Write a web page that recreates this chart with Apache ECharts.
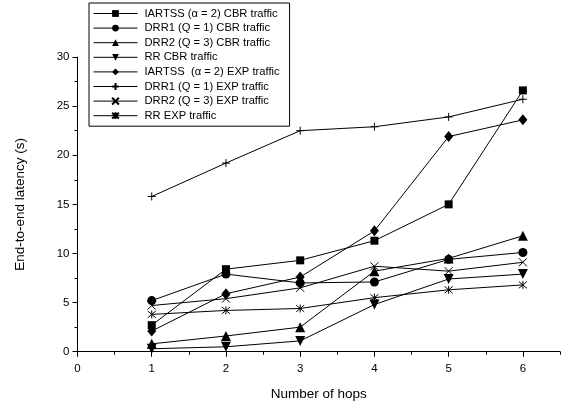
<!DOCTYPE html>
<html>
<head>
<meta charset="utf-8">
<script src="https://cdn.jsdelivr.net/npm/echarts@6/dist/echarts.min.js"></script>
<style>
html,body{margin:0;padding:0;background:#fff;}
#c{width:566px;height:407px;}
</style>
</head>
<body>
<div id="c"></div>
<script>
const hops = [1, 2, 3, 4, 5, 6];
const seriesNames = [
  'IARTSS (α = 2) CBR traffic',
  'DRR1 (Q = 1) CBR traffic',
  'DRR2 (Q = 3) CBR traffic',
  'RR CBR traffic',
  'IARTSS  (α = 2) EXP traffic',
  'DRR1 (Q = 1) EXP traffic',
  'DRR2 (Q = 3) EXP traffic',
  'RR EXP traffic'
];
const iartssCbr = [2.7, 8.4, 9.3, 11.3, 15.0, 26.6];
const drr1Cbr   = [5.2, 7.9, 7.0, 7.1, 9.4, 10.1];
const drr2Cbr   = [0.8, 1.6, 2.5, 8.2, 9.5, 11.8];
const rrCbr     = [0.3, 0.5, 1.1, 4.8, 7.4, 7.9];
const iartssExp = [2.1, 5.9, 7.6, 12.3, 21.9, 23.6];
const drr1Exp   = [15.8, 19.2, 22.5, 22.9, 23.9, 25.7];
const drr2Exp   = [4.7, 5.4, 6.5, 8.7, 8.2, 9.1];
const rrExp     = [3.8, 4.2, 4.4, 5.5, 6.3, 6.8];
const xTickLabels = [0, 1, 2, 3, 4, 5, 6];
const xMinorTicks = [0.5, 1.5, 2.5, 3.5, 4.5, 5.5, 6.5];

const allData = [iartssCbr, drr1Cbr, drr2Cbr, rrCbr, iartssExp, drr1Exp, drr2Exp, rrExp];

const FONT = '"Liberation Sans", Arial, sans-serif';
const PLUS = 'path://M5,0 L5,10 M0,5 L10,5';
const CROSS = 'path://M0,0 L10,10 M10,0 L0,10';
const STAR = 'path://M0,0 L10,10 M10,0 L0,10 M5,-1 L5,11';

const symbols = [
  {symbol: 'rect', size: 8, fill: true},
  {symbol: 'circle', size: 9, fill: true},
  {symbol: 'triangle', size: 10, fill: true},
  {symbol: 'triangle', size: 10, fill: true, rotate: 180},
  {symbol: 'diamond', size: [9, 11], fill: true},
  {symbol: PLUS, size: 8, fill: false},
  {symbol: CROSS, size: 8, fill: false},
  {symbol: STAR, size: 8, fill: false}
];

const series = allData.map((d, i) => {
  const s = symbols[i];
  return {
    name: seriesNames[i],
    type: 'line',
    data: hops.map((h, k) => [h, d[k]]),
    symbol: s.symbol,
    symbolSize: s.size,
    symbolRotate: s.rotate || 0,
    showAllSymbol: true,
    lineStyle: {color: '#000', width: 1},
    itemStyle: s.fill ? {color: '#000', borderWidth: 0} : {color: 'rgba(0,0,0,0)', borderColor: '#000', borderWidth: 1},
    emphasis: {disabled: true},
    animation: false,
    z: 2
  };
});

const chart = echarts.init(document.getElementById('c'), null, {renderer: 'canvas'});
chart.setOption({
  backgroundColor: '#fff',
  animation: false,
  grid: {left: 77.5, right: 6, top: 57, bottom: 55.3, containLabel: false},
  legend: {
    orient: 'vertical',
    left: 89,
    top: 3,
    padding: [4, 10, 4, 4],
    itemGap: 1.6,
    itemWidth: 44,
    itemHeight: 8.5,
    borderColor: '#000',
    borderWidth: 1,
    backgroundColor: '#fff',
    lineStyle: {width: 1, color: '#000'},
    textStyle: {fontFamily: FONT, fontSize: 11.2, lineHeight: 13, color: '#000', padding: [0, 0, 0, 2]},
    data: seriesNames,
    selectedMode: false
  },
  xAxis: [{
    type: 'value',
    min: 0, max: 6.5, interval: 1,
    position: 'bottom',
    name: 'Number of hops',
    nameLocation: 'middle',
    nameGap: 36,
    nameTextStyle: {fontFamily: FONT, fontSize: 13.5, color: '#000'},
    axisLine: {show: true, onZero: false, lineStyle: {color: '#000', width: 1}},
    axisTick: {show: true, inside: false, length: 5, lineStyle: {color: '#000'}, customValues: xTickLabels},
    axisLabel: {fontFamily: FONT, fontSize: 11.5, color: '#000', margin: 11, customValues: xTickLabels},
    splitLine: {show: false}
  }, {
    type: 'value',
    min: 0, max: 6.5, interval: 1,
    position: 'bottom',
    offset: 0,
    axisLine: {show: false},
    axisTick: {show: true, inside: false, length: 3, lineStyle: {color: '#000'}, customValues: xMinorTicks},
    axisLabel: {show: false},
    splitLine: {show: false}
  }],
  yAxis: {
    type: 'value',
    min: 0, max: 30, interval: 5,
    name: 'End-to-end latency (s)',
    nameLocation: 'middle',
    nameGap: 50,
    nameTextStyle: {fontFamily: FONT, fontSize: 13.5, color: '#000'},
    axisLine: {show: true, onZero: false, lineStyle: {color: '#000', width: 1}},
    axisTick: {show: true, inside: false, length: 5, lineStyle: {color: '#000'}},
    minorTick: {show: true, splitNumber: 2, length: 3, lineStyle: {color: '#000'}},
    axisLabel: {fontFamily: FONT, fontSize: 11.5, color: '#000', margin: 8},
    splitLine: {show: false},
    minorSplitLine: {show: false}
  },
  series: series
});
</script>
</body>
</html>
